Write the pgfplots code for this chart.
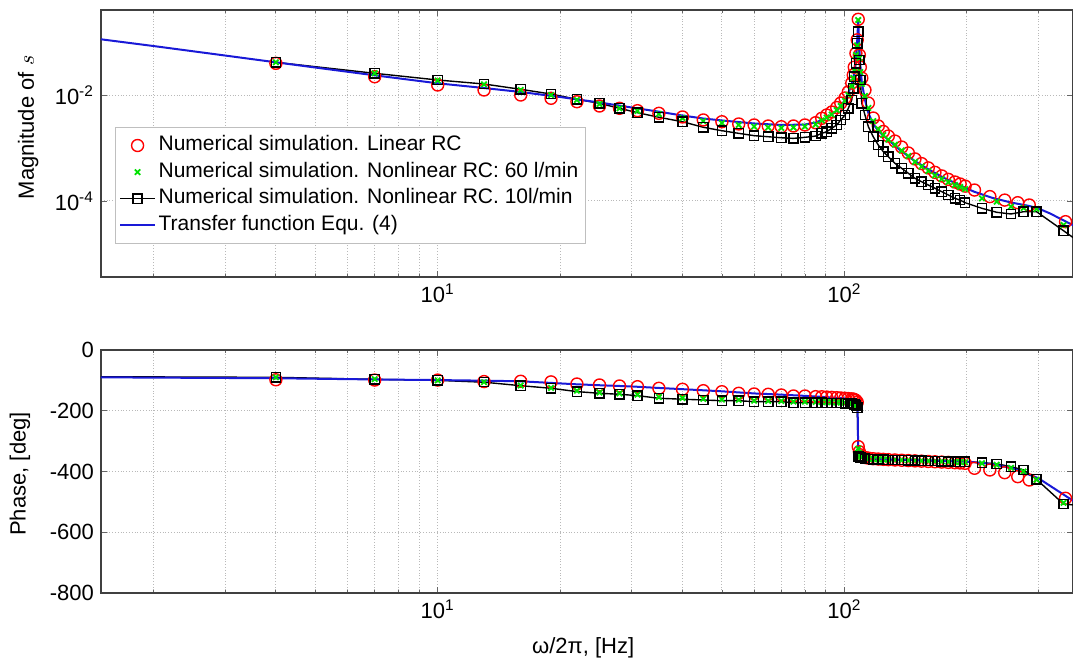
\documentclass[border=0pt]{standalone}
\usepackage{fontspec}
\setmainfont{Liberation Sans}
\usepackage{pgfplots}
\pgfplotsset{compat=1.18}
\definecolor{simgreen}{RGB}{0,225,0}
\definecolor{tfblue}{RGB}{25,25,215}

\begin{document}
\begin{tikzpicture}

% ---- magnitude ----
\begin{axis}[name=mag, at={(0,0)}, anchor=south west,
    scale only axis, width=486pt, height=133.5pt,
    xmode=log, xmin=1.486, xmax=365.1,
    xtick={10,100}, xticklabels={10\textsuperscript{1},10\textsuperscript{2}},
    minor xtick={2,3,4,5,6,7,8,9,20,30,40,50,60,70,80,90,200,300},
    ymode=log, ymin=3.68e-6, ymax=0.4017,
    ytick={1e-4,1e-2}, yticklabels={10\textsuperscript{-4},10\textsuperscript{-2}},
    yminorticks=false,
    xmajorgrids, xminorgrids, ymajorgrids,
    major grid style={densely dotted, gray!55, line width=0.5pt},
    minor grid style={densely dotted, gray!55, line width=0.5pt},
    axis line style={black!75, line width=0.6pt},
    tick align=inside, major tick length=3pt, minor tick length=1.5pt,
    tick style={black!60, line width=0.4pt},
    tick label style={font=\fontsize{11}{13}\selectfont},
    label style={font=\fontsize{11}{13}\selectfont},
    ylabel={Magnitude of $s$},
    ylabel style={at={(axis description cs:-0.075,0.56)}, anchor=center},
    legend style={at={(0.0144,0.5618)}, anchor=north west,
        draw=black!25, fill=white, line width=0.5pt,
        font=\fontsize{10.5}{12}\selectfont,
        inner xsep=2pt, inner ysep=2.5pt, row sep=0.3pt,
        nodes={inner xsep=1.5pt, inner ysep=1.5pt, text height=7.6pt, text depth=2.4pt},
        legend cell align=left},
]
\addplot[only marks, red, mark=o, mark size=3pt, line width=0.7pt] coordinates {
 (4,0.0396)(7,0.0221)(10,0.01545)(13,0.01243)(16,0.0100)(19,0.00867)(22,0.00747)
 (25,0.0062)(28,0.00561)(31,0.00506)(35,0.00451)(40,0.00385)(45,0.00338)(50,0.00313)
 (55,0.00284)(60,0.00272)(65,0.0026)(70,0.00252)(75,0.0026)(80,0.00272)(85,0.003)
 (88,0.00363)(90.5,0.00419)(93.1,0.00477)(95.8,0.0058)(98,0.00706)(100.4,0.00878)
 (102.3,0.0114)(104.3,0.0168)(105.2,0.0238)(105.8,0.0335)(106.8,0.0612)(107.6,0.11)
 (108.2,0.268)(108.9,0.0569)(109.5,0.0335)(110.4,0.0209)(112.4,0.0124)(114.6,0.00706)
 (117.8,0.00368)(121.2,0.0026)(124.7,0.00205)(128.3,0.00168)(133.2,0.00135)
 (138.4,0.00104)(143.7,0.000805)(149.2,0.000622)(154.9,0.000508)(160.9,0.000421)
 (167.1,0.000347)(173.6,0.000297)(180.2,0.000256)(187.1,0.000228)(192.7,0.000209)
 (198.2,0.000191)(209,0.000161)(228,0.000121)(248,0.000104)(267,0.0000929)
 (285,0.0000841)(350,0.0000407)
};
\addlegendentry{Numerical simulation. Linear RC}
\addplot[only marks, simgreen, mark=x, mark size=1.9pt, line width=0.9pt] coordinates {
 (4,0.0414)(7,0.02567)(10,0.0188)(13,0.0159)(16,0.01243)(19,0.0100)(22,0.00805)
 (25,0.00676)(28,0.00561)(31,0.005)(35,0.00438)(40,0.00368)(45,0.00322)(50,0.00295)
 (55,0.00272)(60,0.00254)(65,0.00244)(70,0.00239)(75,0.00244)(80,0.00254)(85,0.00277)
 (88,0.00331)(90.5,0.00377)(93.1,0.00429)(95.8,0.00521)(98,0.0062)(100.4,0.00771)
 (102.3,0.0100)(104.3,0.0148)(105.2,0.0209)(105.8,0.0296)(106.8,0.0569)(107.6,0.0865)
 (108.2,0.26)(108.9,0.050)(109.5,0.0272)(110.4,0.0161)(112.4,0.00958)(114.6,0.00569)
 (117.8,0.00322)(121.2,0.00228)(124.7,0.00176)(128.3,0.00144)(133.2,0.00116)
 (138.4,0.000896)(143.7,0.000706)(149.2,0.000546)(154.9,0.000448)(160.9,0.000368)
 (167.1,0.000303)(173.6,0.00026)(180.2,0.000227)(187.1,0.0002)(192.7,0.000184)
 (198.2,0.000168)(218,0.000112)(237,0.0000971)(257,0.0000781)(276,0.0000738)
 (297,0.0000708)(346,0.0000352)
};
\addlegendentry{Numerical simulation. Nonlinear RC: 60 l/min}
\addplot[black, mark=square, mark size=2.3pt, line width=0.7pt] coordinates {
 (4,0.0414)(7,0.02567)(10,0.01919)(13,0.01613)(16,0.01281)(19,0.01044)
 (22,0.0083)(25,0.00697)(28,0.00561)(31,0.00464)(35,0.0038)(40,0.00313)(45,0.00246)
 (50,0.00212)(55,0.00189)(60,0.00171)(65,0.00163)(70,0.00156)(75,0.00152)(80,0.00159)
 (85,0.00168)(88,0.00189)(90.5,0.00203)(93.1,0.00235)(95.8,0.00272)(98,0.00338)
 (100.4,0.00419)(102.3,0.00561)(104.3,0.00805)(105.2,0.01338)(105.8,0.0221)
 (106.8,0.0396)(107.6,0.0945)(108.2,0.1564)(108.9,0.0457)(109.5,0.0192)(110.4,0.00697)
 (112.4,0.00419)(114.6,0.00252)(117.8,0.00163)(121.2,0.00114)(124.7,0.000852)
 (128.3,0.000686)(133.2,0.000514)(138.4,0.000414)(143.7,0.000333)(149.2,0.000268)
 (154.9,0.000231)(160.9,0.0002)(167.1,0.000174)(173.6,0.00015)(180.2,0.00013)
 (187.1,0.000112)(192.7,0.000104)(198.2,0.0000929)(218,0.0000728)(237,0.0000612)
 (257,0.0000569)(276,0.0000628)(297,0.0000628)(346,0.0000275)(400,0.0000124)
};
\addlegendentry{Numerical simulation. Nonlinear RC. 10l/min}
\addplot[tfblue, no marks, line width=1pt] coordinates {
 (1.486,0.1125)(2,0.084)(3,0.0556)(4,0.0414)(5,0.033)(7,0.02353)(10,0.01662)
 (13,0.01355)(16,0.0114)(20,0.00917)(25,0.00722)(30,0.00581)(35,0.00484)(40,0.0041)
 (45,0.0036)(50,0.00331)(60,0.0029)(70,0.00272)(80,0.00277)(85,0.00303)(90,0.0036)
 (95,0.00478)(98,0.0062)(100.4,0.00805)(102.3,0.0109)(104.3,0.0161)(105.5,0.0238)
 (106.8,0.05)(107.6,0.109)(108.2,0.26)(108.8,0.0878)(109.5,0.0368)(110.4,0.0176)
 (112.4,0.00805)(114.6,0.00457)(117.8,0.00284)(121.2,0.0021)(128.3,0.00142)
 (137,0.000917)(149,0.000569)(162,0.000385)(176,0.000272)(192,0.0002)(208,0.000151)
 (230,0.000116)(257,0.0000937)(285,0.0000805)(300,0.0000723)(320,0.0000586)
 (365,0.000035)(400,0.0000229)
};
\addlegendentry{Transfer function Equ. (4)}
\end{axis}

% ---- phase ----
\begin{axis}[name=ph, at={(0,-36.5pt)}, anchor=north west,
    scale only axis, width=486pt, height=121.5pt,
    xmode=log, xmin=1.486, xmax=365.1,
    xtick={10,100}, xticklabels={10\textsuperscript{1},10\textsuperscript{2}},
    minor xtick={2,3,4,5,6,7,8,9,20,30,40,50,60,70,80,90,200,300},
    ymin=-800, ymax=0,
    ytick={-800,-600,-400,-200,0}, yticklabels={-800,-600,-400,-200,0},
    xmajorgrids, xminorgrids, ymajorgrids,
    major grid style={densely dotted, gray!55, line width=0.5pt},
    minor grid style={densely dotted, gray!55, line width=0.5pt},
    axis line style={black!75, line width=0.6pt},
    tick align=inside, major tick length=3pt, minor tick length=1.5pt,
    tick style={black!60, line width=0.4pt},
    tick label style={font=\fontsize{11}{13}\selectfont},
    label style={font=\fontsize{11}{13}\selectfont},
    ylabel={Phase, [deg]},
    ylabel style={at={(axis description cs:-0.0833,0.49)}, anchor=center},
    xlabel={ω/2π, [Hz]},
    xlabel style={at={(axis description cs:0.496,0)}, anchor=center, yshift=-27.5pt},
]
\addplot[only marks, red, mark=o, mark size=3pt, line width=0.7pt] coordinates {
 (4,-98)(7,-99)(10,-99)(13,-104)(16,-103)(19,-105)(22,-112)(25,-115.2)(28,-118.5)
 (31,-120.8)(35,-126.1)(40,-129.4)(45,-134)(50,-137.3)(55,-142.5)(60,-144.8)
 (65,-145.8)(70,-148.1)(75,-151.4)(80,-151.4)(85,-153.7)(88,-154)(90.5,-155)
 (93.1,-156)(95.8,-157)(98,-158)(100.4,-159)(102.3,-160)(104.3,-161)(105.2,-162)
 (105.8,-163)(106.8,-166)(107.6,-172)(108.2,-318)(108.9,-335)(109.5,-345)
 (110.4,-350)(112.4,-354)(114.6,-356)(117.8,-358)(121.2,-359)(124.7,-360)
 (128.3,-361)(133.2,-362)(138.4,-363)(143.7,-364)(149.2,-365)(154.9,-366)
 (160.9,-367)(167.1,-368)(173.6,-369)(180.2,-370)(187.1,-371)(192.7,-372)
 (198.2,-373)(209,-389.4)(228,-395)(248,-403.9)(267,-417)(285,-428)(350,-488.2)
};
\addplot[only marks, simgreen, mark=x, mark size=1.9pt, line width=0.9pt] coordinates {
 (4,-90)(7,-96)(10,-100)(13,-106)(16,-117)(19,-125)(22,-134)(25,-140)(28,-143)
 (31,-147)(35,-155)(40,-158)(45,-161)(50,-163)(55,-164)(60,-167)(65,-167.5)(70,-168)
 (75,-170)(80,-170.5)(85,-171)(88,-171)(90.5,-171.5)(93.1,-172)(95.8,-172.5)(98,-173)
 (100.4,-173)(102.3,-174)(104.3,-175)(105.2,-176)(105.8,-177)(106.8,-180)
 (107.6,-185)(108.2,-325)(108.9,-340)(109.5,-348)(110.4,-353)(112.4,-356)
 (114.6,-358)(117.8,-359)(121.2,-360)(124.7,-360.5)(128.3,-361)(133.2,-362)
 (138.4,-362.5)(143.7,-363.5)(149.2,-364)(154.9,-365)(160.9,-365.5)(167.1,-366.5)
 (173.6,-367)(180.2,-368)(187.1,-368.5)(192.7,-369)(198.2,-369.5)(218,-373)
 (237,-378)(257,-388)(276,-400)(297,-427)(346,-503)
};
% low-frequency stretch of the 10 l/min curve, line only
\addplot[black, no marks, line width=0.7pt] coordinates {(1.486,-88)(4,-90)};
\addplot[black, mark=square, mark size=2.3pt, line width=0.7pt] coordinates {
 (4,-90)(7,-96.5)(10,-100)(13,-106)(16,-117.5)(19,-126)(22,-137)
 (25,-142.5)(28,-145.8)(31,-150.3)(35,-159)(40,-162)(45,-164.6)(50,-166.9)
 (55,-166.9)(60,-170.2)(65,-170.2)(70,-170.2)(75,-173.5)(80,-173.5)(85,-173.5)
 (88,-173.5)(90.5,-174)(93.1,-174.5)(95.8,-175)(98,-175)(100.4,-175.5)(102.3,-176)
 (104.3,-177)(105.2,-178)(105.8,-180)(106.8,-183)(107.6,-190)(108.2,-350)
 (108.9,-352)(109.5,-354)(110.4,-356)(112.4,-358)(114.6,-359)(117.8,-360)
 (121.2,-360.5)(124.7,-361)(128.3,-361.5)(133.2,-362)(138.4,-362.5)(143.7,-363)
 (149.2,-364)(154.9,-364.5)(160.9,-365)(167.1,-366)(173.6,-366.5)(180.2,-367)
 (187.1,-367.5)(192.7,-368)(198.2,-368)(218,-371)(237,-375)(257,-384)(276,-395)
 (297,-426)(346,-507)(400,-515)
};
\addplot[tfblue, no marks, line width=1pt] coordinates {
 (1.486,-90)(4,-93)(7,-97)(10,-99)(13,-101)(16,-103)(20,-110)(22,-113)(25,-116)
 (30,-120)(35,-125)(40,-129)(50,-136)(60,-143)(70,-147)(80,-151)(90,-155)(100,-159)
 (105,-162)(107,-168)(107.8,-178)(108.2,-340)(108.5,-350)(110,-353)(115,-357)
 (130,-360)(160,-363)(200,-367)(230,-375)(260,-390)(300,-422)(330,-458)(365,-496)
 (400,-520)
};
\end{axis}

\pgfresetboundingbox
\path (-50.5pt,138.5pt) rectangle (486pt,-193.5pt);
\end{tikzpicture}
\end{document}
